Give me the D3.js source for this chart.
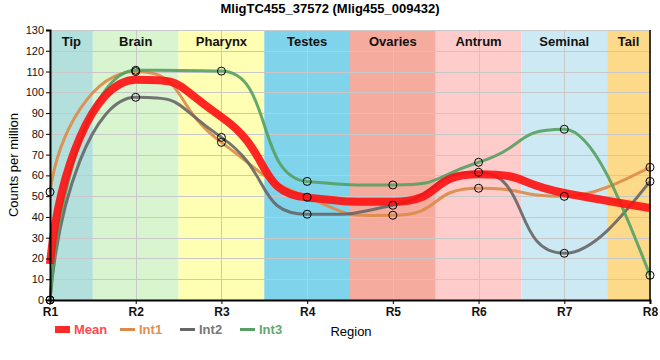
<!DOCTYPE html>
<html><head><meta charset="utf-8">
<script src="https://cdn.jsdelivr.net/npm/d3@7/dist/d3.min.js"></script>
<style>body{margin:0;background:#fff}svg{display:block;font-family:"Liberation Sans",Arial,sans-serif}</style>
</head><body><svg id="c" width="660" height="360"></svg>
<script>
const title = "MligTC455_37572 (Mlig455_009432)";
const regions = ["R1","R2","R3","R4","R5","R6","R7","R8"];
const bandNames = ["Tip","Brain","Pharynx","Testes","Ovaries","Antrum","Seminal","Tail"];
const bandColors = ["#b3e0dc","#d8f5d0","#ffffb4","#7fd4ec","#f5ab9e","#ffcccc","#cdeaf4","#fdd98a"];
const int1 = [52, 110, 75.9, 49.5, 40.8, 53.8, 49.9, 63.9];
const int2 = [0, 97.6, 78.3, 41.3, 45.6, 61.5, 22.5, 57.1];
const int3 = [0, 110.6, 110.2, 57.1, 55.4, 66.3, 82.2, 11.9];
const meanVals = regions.map((r,i)=>(int1[i]+int2[i]+int3[i])/3);
const yTicks = d3.range(0,131,10);

// smooth monotone curve with long control handles
function MonoBump(ctx){ this._ctx = ctx; }
MonoBump.prototype = {
  areaStart(){}, areaEnd(){},
  lineStart(){ this._x=[]; this._y=[]; },
  point(x,y){ this._x.push(+x); this._y.push(+y); },
  lineEnd(){
    const X=this._x, Y=this._y, n=X.length, c=this._ctx, k=0.6;
    if(!n) return;
    c.moveTo(X[0],Y[0]);
    if(n<2) return;
    const h=[], s=[], t=new Array(n).fill(0);
    for(let i=0;i<n-1;i++){ h[i]=X[i+1]-X[i]; s[i]=(Y[i+1]-Y[i])/h[i]; }
    for(let i=1;i<n-1;i++){
      const s0=s[i-1], s1=s[i], h0=h[i-1], h1=h[i];
      const p=(s0*h1+s1*h0)/(h0+h1);
      t[i]=(Math.sign(s0)+Math.sign(s1))*Math.min(Math.abs(s0),Math.abs(s1),0.5*Math.abs(p))||0;
    }
    t[n-1] = n>2 ? (3*s[n-2]-t[n-2])/2 : s[n-2];
    for(let i=0;i<n-1;i++){
      const hh=h[i], dy=Y[i+1]-Y[i];
      let c1x, c1y, c2x, c2y;
      if(i===0){
        c1x = X[0] + 0.1*hh; c1y = Y[0] + 0.5*dy;
      } else if(i===n-2){
        c1x = X[i] + hh/3; c1y = Y[i] + hh/3*t[i];
      } else {
        c1x = X[i] + k*hh; c1y = Y[i] + k*hh*t[i];
      }
      if(i===n-2){
        c2x = X[i+1] - hh/3; c2y = Y[i+1] - hh/3*t[i+1];
      } else if(i===0){
        c2x = X[i+1] - 0.5*hh; c2y = Y[i+1] - 0.5*hh*t[i+1];
      } else {
        c2x = X[i+1] - k*hh; c2y = Y[i+1] - k*hh*t[i+1];
      }
      c.bezierCurveTo(c1x, c1y, c2x, c2y, X[i+1], Y[i+1]);
    }
  }
};
const curveMonoBump = ctx => new MonoBump(ctx);

const svg = d3.select("#c");
const m = {l:50, r:10, t:30, b:60};
const W = 660, H = 360;
const x = d3.scalePoint().domain(regions).range([m.l, W-m.r]);
const y = d3.scaleLinear().domain([0,130]).range([H-m.b, m.t]);
const step = x.step();
const bandX0 = i => i===0 ? x(regions[0]) : x(regions[i-1]) + step/2;
const bandX1 = i => i===bandNames.length-1 ? x(regions[regions.length-1]) : x(regions[i]) + step/2;

// bands
const bands = svg.append("g");
bandNames.forEach((n,i)=>{
  bands.append("rect").attr("x",bandX0(i)).attr("y",y(130)).attr("width",bandX1(i)-bandX0(i))
    .attr("height",y(0)-y(130)).attr("fill",bandColors[i]);
});
// grid
const grid = svg.append("g").attr("stroke","#c8c8c8").attr("stroke-width",1);
yTicks.forEach(t=>grid.append("line").attr("x1",m.l).attr("x2",W-m.r).attr("y1",Math.round(y(t))+0.5).attr("y2",Math.round(y(t))+0.5));
regions.forEach(r=>grid.append("line").attr("x1",Math.round(x(r))+0.5).attr("x2",Math.round(x(r))+0.5).attr("y1",y(130)).attr("y2",y(0)));
// band labels
bandNames.forEach((n,i)=>{
  svg.append("text").attr("x",(bandX0(i)+bandX1(i))/2).attr("y",46).attr("text-anchor","middle")
    .attr("font-size",13).attr("font-weight","bold").attr("fill","#111").text(n);
});

const line = d3.line().x((d,i)=>x(regions[i])).y(d=>y(d)).curve(curveMonoBump);
const series = [
  {name:"Int1", vals:int1, color:"#dd8a48", text:"#e0904f"},
  {name:"Int2", vals:int2, color:"#666666", text:"#777777"},
  {name:"Int3", vals:int3, color:"#55a062", text:"#5fa86e"}
];
series.forEach(s=>{
  svg.append("path").attr("d",line(s.vals)).attr("fill","none").attr("stroke",s.color)
    .attr("stroke-width",3).attr("stroke-opacity",0.9);
});
svg.append("path").attr("d",line(meanVals)).attr("fill","none").attr("stroke","#ff1010")
  .attr("stroke-width",8).attr("stroke-opacity",0.9);
series.forEach(s=>{
  svg.append("g").selectAll("circle").data(s.vals).join("circle")
    .attr("cx",(d,i)=>x(regions[i])).attr("cy",d=>y(d)).attr("r",4)
    .attr("fill","none").attr("stroke","#000").attr("stroke-width",1);
});

// axes
const yAxis = svg.append("g").attr("transform",`translate(${m.l},0)`)
  .call(d3.axisLeft(y).tickValues(yTicks).tickSize(4).tickPadding(2));
yAxis.select(".domain").attr("stroke","#000").attr("stroke-width",2);
yAxis.selectAll("text").attr("font-size",11).attr("fill","#111").attr("font-family","'Liberation Sans',Arial,sans-serif");
const xAxis = svg.append("g").attr("transform",`translate(0,${y(0)})`)
  .call(d3.axisBottom(x).tickSize(4).tickPadding(3));
xAxis.select(".domain").attr("stroke","#000").attr("stroke-width",2);
xAxis.selectAll("text").attr("font-size",12).attr("font-weight","bold").attr("fill","#111").attr("font-family","'Liberation Sans',Arial,sans-serif");
svg.append("line").attr("x1",W-m.r).attr("x2",W-m.r).attr("y1",y(130)).attr("y2",y(0)).attr("stroke","#000").attr("stroke-width",1.5);

// titles
svg.append("text").attr("x",330).attr("y",13).attr("text-anchor","middle").attr("font-size",13).attr("font-weight","bold").text(title);
svg.append("text").attr("transform","translate(18,165) rotate(-90)").attr("text-anchor","middle").attr("font-size",13).text("Counts per million");
svg.append("text").attr("x",351).attr("y",336).attr("text-anchor","middle").attr("font-size",13).text("Region");

// legend
const lg = svg.append("g");
lg.append("rect").attr("x",55).attr("y",326).attr("width",15).attr("height",7).attr("fill","#ff2a2a");
lg.append("text").attr("x",74).attr("y",334).attr("font-size",13).attr("font-weight","bold").attr("fill","#ff4a4a").text("Mean");
series.forEach((s,i)=>{
  const lx = 120 + i*60;
  lg.append("line").attr("x1",lx).attr("x2",lx+15).attr("y1",329.5).attr("y2",329.5).attr("stroke",s.color).attr("stroke-width",3);
  lg.append("text").attr("x",lx+19).attr("y",334).attr("font-size",13).attr("font-weight","bold").attr("fill",s.text).text(s.name);
});
</script></body></html>
